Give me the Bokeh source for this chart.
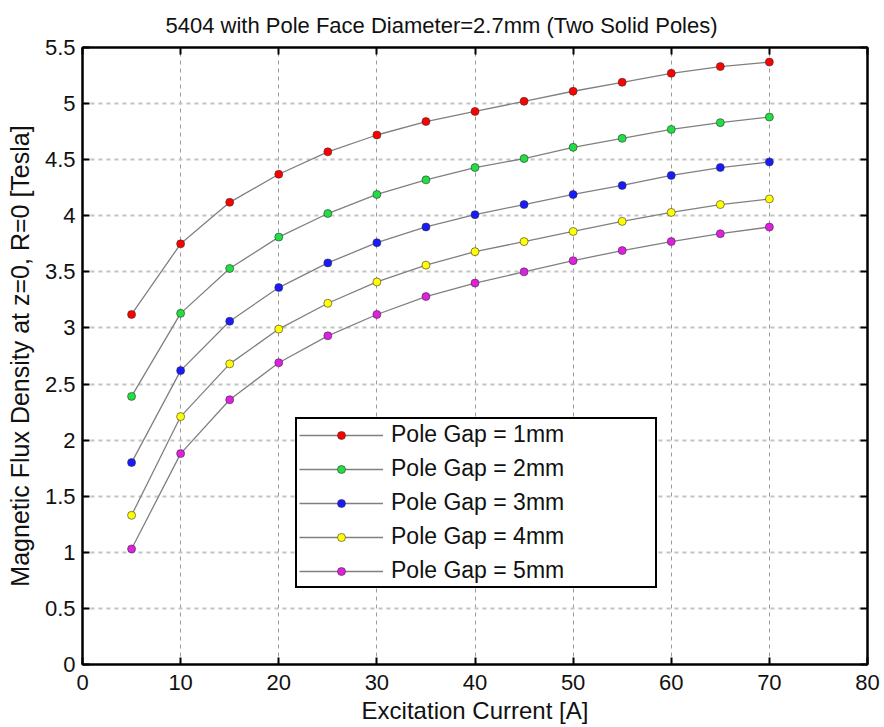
from bokeh.plotting import figure
from bokeh.models import LinearAxis, FixedTicker, CustomJSTickFormatter, Range1d
from bokeh.embed import file_html
from bokeh.resources import INLINE

# ---- data ----
current = [5, 10, 15, 20, 25, 30, 35, 40, 45, 50, 55, 60, 65, 70]
gap_1mm = [3.12, 3.75, 4.12, 4.37, 4.57, 4.72, 4.84, 4.93, 5.02, 5.11, 5.19, 5.27, 5.33, 5.37]
gap_2mm = [2.39, 3.13, 3.53, 3.81, 4.02, 4.19, 4.32, 4.43, 4.51, 4.61, 4.69, 4.77, 4.83, 4.88]
gap_3mm = [1.80, 2.62, 3.06, 3.36, 3.58, 3.76, 3.90, 4.01, 4.10, 4.19, 4.27, 4.36, 4.43, 4.48]
gap_4mm = [1.33, 2.21, 2.68, 2.99, 3.22, 3.41, 3.56, 3.68, 3.77, 3.86, 3.95, 4.03, 4.10, 4.15]
gap_5mm = [1.03, 1.88, 2.36, 2.69, 2.93, 3.12, 3.28, 3.40, 3.50, 3.60, 3.69, 3.77, 3.84, 3.90]

series_labels = ["Pole Gap = 1mm", "Pole Gap = 2mm", "Pole Gap = 3mm",
                 "Pole Gap = 4mm", "Pole Gap = 5mm"]
series_values = [gap_1mm, gap_2mm, gap_3mm, gap_4mm, gap_5mm]
series_colors = ["#ff0000", "#22dd44", "#1a1aff", "#ffff00", "#e020e0"]

x_ticks = [0, 10, 20, 30, 40, 50, 60, 70, 80]
y_ticks = [0, 0.5, 1, 1.5, 2, 2.5, 3, 3.5, 4, 4.5, 5, 5.5]
y_tick_labels = ["0", "0.5", "1", "1.5", "2", "2.5", "3", "3.5", "4", "4.5", "5", "5.5"]

title_text = "5404 with Pole Face Diameter=2.7mm (Two Solid Poles)"
x_label = "Excitation Current [A]"
y_label = "Magnetic Flux Density at z=0, R=0 [Tesla]"

FONT = "Liberation Sans"

p = figure(width=884, height=727, output_backend="svg", toolbar_location=None,
           x_range=Range1d(0, 80), y_range=Range1d(0, 5.5),
           min_border_left=82, min_border_right=17, min_border_top=47, min_border_bottom=63,
           title=title_text)

p.title.align = "left"
p.title.offset = 83
p.title.standoff = 20
p.title.text_font = FONT
p.title.text_font_size = "22px"
p.title.text_font_style = "normal"
p.title.text_color = "#111111"

p.outline_line_color = "black"
p.outline_line_width = 2
p.background_fill_color = "white"
p.border_fill_color = "white"

for ax in [p.xaxis[0], p.yaxis[0]]:
    ax.major_tick_in = 7
    ax.major_tick_out = 0
    ax.minor_tick_line_color = None
    ax.axis_line_width = 2
    ax.major_tick_line_width = 2
    ax.major_label_text_font = FONT
    ax.major_label_text_font_size = "22px"
    ax.major_label_text_color = "#111111"
    ax.axis_label_text_font = FONT
    ax.axis_label_text_font_style = "normal"
    ax.axis_label_text_color = "#111111"

p.xaxis[0].ticker = FixedTicker(ticks=x_ticks)
p.yaxis[0].ticker = FixedTicker(ticks=y_ticks)
p.yaxis[0].major_label_overrides = dict(zip(y_ticks, y_tick_labels))
p.xaxis[0].axis_label = x_label
p.yaxis[0].axis_label = y_label
p.xaxis[0].axis_label_text_font_size = "24px"
p.yaxis[0].axis_label_text_font_size = "25px"
p.xaxis[0].major_label_standoff = 10
p.xaxis[0].axis_label_standoff = 4
p.yaxis[0].major_label_standoff = 7
p.yaxis[0].axis_label_standoff = 8

# mirrored axes (ticks only) on top and right
blank = CustomJSTickFormatter(code="return ''")
top_ax = LinearAxis(ticker=FixedTicker(ticks=x_ticks), formatter=blank)
right_ax = LinearAxis(ticker=FixedTicker(ticks=y_ticks), formatter=blank)
for ax in [top_ax, right_ax]:
    ax.major_tick_in = 7
    ax.major_tick_out = 0
    ax.minor_tick_line_color = None
    ax.axis_line_width = 2
    ax.major_tick_line_width = 2
    ax.major_label_standoff = 0
    ax.major_label_text_font_size = "0px"
p.add_layout(top_ax, "above")
p.add_layout(right_ax, "right")

p.xgrid.grid_line_color = "#9a9a9a"
p.xgrid.grid_line_dash = "4 4"
p.xgrid.grid_line_width = 1
p.ygrid.grid_line_color = "#c4c4c4"
p.ygrid.grid_line_dash = "4 4"
p.ygrid.grid_line_width = 2

for label, vals, color in zip(series_labels, series_values, series_colors):
    p.line(current, vals, line_color="#808080", line_width=1.3, legend_label=label)
    p.scatter(current, vals, size=8, fill_color=color, line_color="#333333",
              line_width=0.6, legend_label=label)

lg = p.legend[0]
lg.location = (213, 76)
lg.border_line_color = "black"
lg.border_line_alpha = 1
lg.border_line_width = 2
lg.background_fill_color = "white"
lg.background_fill_alpha = 1
lg.label_text_font = FONT
lg.label_text_font_size = "23px"
lg.label_text_color = "#111111"
lg.glyph_width = 84
lg.glyph_height = 20
lg.label_height = 20
lg.label_width = 262
lg.label_standoff = 8
lg.spacing = 7
lg.padding = 2
lg.margin = 0

open("out.html", "w").write(file_html(p, INLINE))
